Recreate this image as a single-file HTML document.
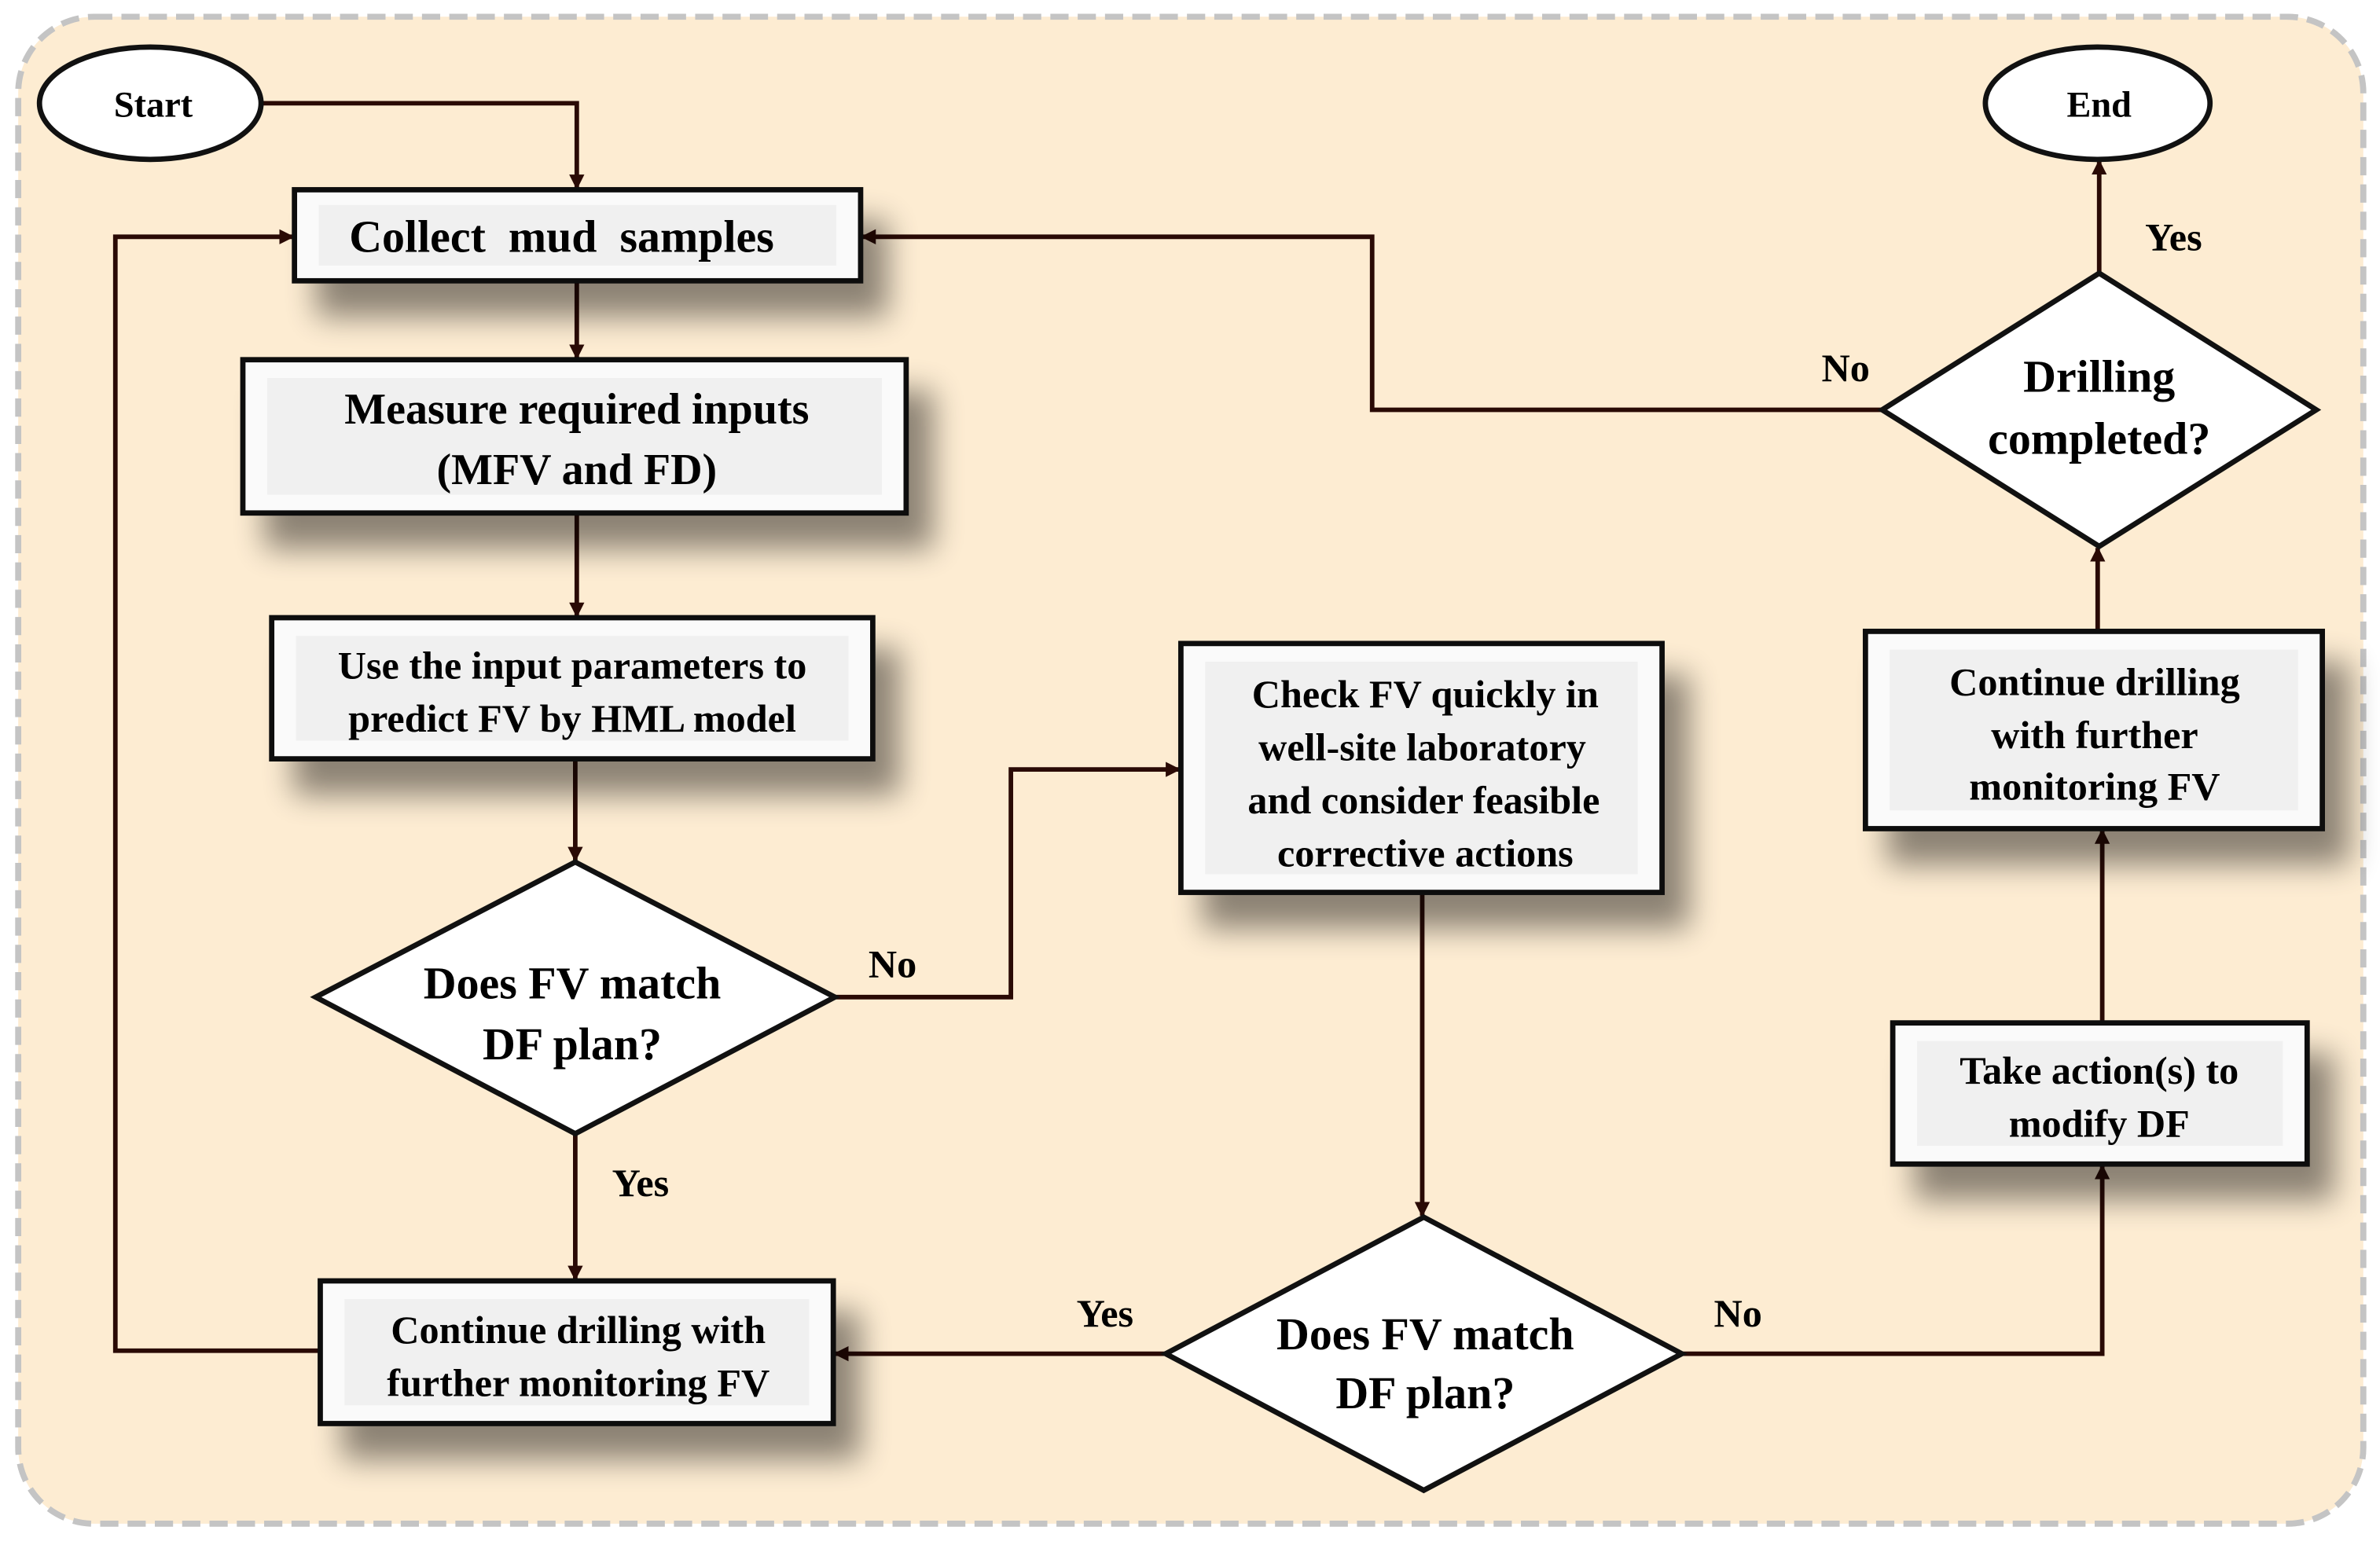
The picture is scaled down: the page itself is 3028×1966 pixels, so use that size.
<!DOCTYPE html>
<html><head><meta charset="utf-8"><style>
html,body{margin:0;padding:0;background:#fff;}
svg{display:block;}
text{font-family:"Liberation Serif",serif;font-weight:bold;fill:#000;text-anchor:middle;}
</style></head><body>
<svg width="3028" height="1966" viewBox="0 0 1568 1018" xmlns="http://www.w3.org/2000/svg">
<defs>
<filter id="sh" x="-20%" y="-20%" width="150%" height="170%">
<feGaussianBlur in="SourceAlpha" stdDeviation="10"/>
<feOffset dx="16" dy="22" result="b"/>
<feComponentTransfer><feFuncA type="linear" slope="0.45"/></feComponentTransfer>
<feMerge><feMergeNode/><feMergeNode in="SourceGraphic"/></feMerge>
</filter>
<marker id="ar" markerWidth="10" markerHeight="10" refX="9" refY="5" orient="auto" markerUnits="userSpaceOnUse">
<path d="M0,0 L10,5 L0,10 z" fill="#2a0a05"/>
</marker>
</defs>
<rect x="12" y="11" width="1545" height="993" rx="50" fill="#fdecd2" stroke="#c4c4c4" stroke-width="4" stroke-dasharray="12,6"/>

<g stroke="#2a0a05" stroke-width="3" fill="none" marker-end="url(#ar)">
<path d="M172,68 H380 V124"/>
<path d="M380,185 V236"/>
<path d="M380,338 V406"/>
<path d="M379,500 V567"/>
<path d="M379,747 V843"/>
<path d="M550,657 H666 V507 H777"/>
<path d="M211,890 H76 V156 H193"/>
<path d="M937,588 V801"/>
<path d="M768,892 H550"/>
<path d="M1108,892 H1385 V768"/>
<path d="M1385,674 V547"/>
<path d="M1382,416 V361"/>
<path d="M1383,180 V106"/>
<path d="M1240,270 H904 V156 H568"/>
</g>

<g filter="url(#sh)" stroke="#111" stroke-width="3.5" fill="#fafafa">
<rect x="194" y="125" width="373" height="60"/>
<rect x="160" y="237" width="437" height="101"/>
<rect x="179" y="407" width="396" height="93"/>
<rect x="211" y="844" width="338" height="94"/>
<rect x="778" y="424" width="317" height="164"/>
<rect x="1247" y="674" width="273" height="93"/>
<rect x="1229" y="416" width="301" height="130"/>
</g>
<g fill="#f0f0f0">
<rect x="210" y="135" width="341" height="40"/>
<rect x="176" y="249" width="405" height="77"/>
<rect x="195" y="419" width="364" height="69"/>
<rect x="227" y="856" width="306" height="70"/>
<rect x="794" y="436" width="285" height="140"/>
<rect x="1263" y="686" width="241" height="69"/>
<rect x="1245" y="428" width="269" height="106"/>
</g>
<g stroke="#111" stroke-width="3.5" fill="#fff">
<ellipse cx="99" cy="68" rx="73" ry="37"/>
<ellipse cx="1382" cy="68" rx="74" ry="37"/>
<polygon points="379,568 550,657 379,747 208,657"/>
<polygon points="938,802 1108,892 938,982 768,892"/>
<polygon points="1383,180 1526,270 1383,360 1240,270"/>
</g>

<text x="101" y="77" font-size="24">Start</text>
<text x="1383" y="77" font-size="24">End</text>
<text x="370" y="166" font-size="30" xml:space="preserve">Collect  mud  samples</text>
<text x="380" y="279" font-size="29">Measure required  inputs</text>
<text x="380" y="319" font-size="29">(MFV and FD)</text>
<text x="377" y="447" font-size="26">Use the input parameters to</text>
<text x="377" y="482" font-size="26">predict FV by HML  model</text>
<text x="377" y="658" font-size="30">Does FV match</text>
<text x="377" y="698" font-size="30">DF plan?</text>
<text x="381" y="885" font-size="26">Continue drilling with</text>
<text x="381" y="920" font-size="26">further monitoring FV</text>
<text x="939" y="466" font-size="26">Check  FV quickly in</text>
<text x="937" y="501" font-size="26">well-site laboratory</text>
<text x="938" y="536" font-size="26">and consider feasible</text>
<text x="939" y="571" font-size="26">corrective actions</text>
<text x="939" y="889" font-size="30">Does FV match</text>
<text x="939" y="928" font-size="30">DF plan?</text>
<text x="1383" y="714" font-size="26">Take action(s) to</text>
<text x="1383" y="749" font-size="26">modify DF</text>
<text x="1380" y="458" font-size="26">Continue drilling</text>
<text x="1380" y="493" font-size="26">with further</text>
<text x="1380" y="527" font-size="26">monitoring FV</text>
<text x="1383" y="258" font-size="30">Drilling</text>
<text x="1383" y="299" font-size="30">completed?</text>

<text x="422" y="788" font-size="26">Yes</text>
<text x="588" y="644" font-size="26">No</text>
<text x="728" y="874" font-size="26">Yes</text>
<text x="1145" y="874" font-size="26">No</text>
<text x="1432" y="165" font-size="26">Yes</text>
<text x="1216" y="251" font-size="26">No</text>
</svg>
</body></html>
